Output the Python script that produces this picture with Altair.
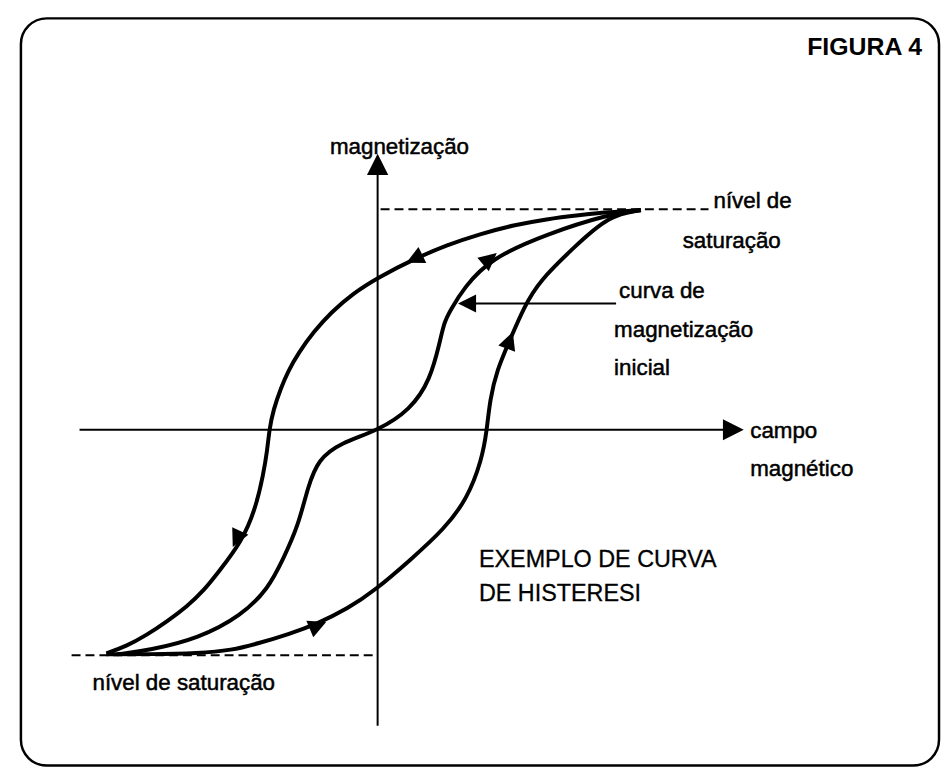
import altair as alt
import pandas as pd

# ---- values (H = magnetic field, M = magnetization, arbitrary units) ----
# descending branch (from positive saturation to negative saturation)
desc_H = [26.5, 23.2, 20.3, 17.0, 13.7, 10.3, 7.0, 3.7, 0.0, -2.5, -4.7, -6.4, -8.0, -9.0, -9.7,
          -10.5, -10.9, -11.1, -11.5, -12.3, -13.7, -16.0, -17.5, -19.2, -21.2, -23.3, -25.3, -27.3]
desc_M = [22.1, 21.9, 21.6, 21.2, 20.6, 19.7, 18.6, 17.2, 15.3, 13.7, 11.8, 9.9, 7.7, 5.9, 4.3,
          2.0, 0.0, -2.0, -4.5, -8.0, -11.3, -14.3, -16.2, -17.8, -19.3, -20.7, -21.8, -22.5]
# ascending branch (from negative saturation to positive saturation)
asc_H = [-27.3, -23.0, -18.0, -14.7, -12.0, -9.0, -6.0, -3.0, -0.3, 3.3, 6.7, 9.0, 10.5, 11.0,
         11.3, 12.0, 13.3, 14.7, 16.3, 19.7, 23.3, 26.5]
asc_M = [-22.6, -22.6, -22.5, -22.2, -21.5, -20.6, -19.5, -18.0, -16.2, -13.1, -10.0, -7.0, -3.0, 0.0,
         3.0, 6.0, 9.0, 12.3, 15.0, 18.3, 21.6, 22.1]
# initial magnetization curve
init_H = [-26.2, -23.0, -18.0, -13.7, -11.0, -9.5, -8.0, -7.0, -6.0, -3.7, 0.0, 3.3, 5.3, 6.3,
          6.7, 7.3, 8.7, 11.3, 17.0, 23.3, 26.5]
init_M = [-22.6, -22.2, -21.0, -18.7, -16.0, -13.0, -9.7, -5.7, -3.0, -1.3, -0.1, 2.0, 5.0, 9.0,
          10.8, 12.0, 14.3, 17.2, 19.7, 21.7, 22.1]

# saturation levels (dashed)
sat_H1 = [0.3, -30.8]
sat_H2 = [33.3, -0.3]
sat_M = [22.2, -22.7]

# coordinate axes
axis_x1 = [-30.0, 0.0]
axis_x2 = [35.0, 0.0]
axis_y1 = [0.0, -29.8]
axis_y2 = [0.0, 26.5]

# pointer for "curva de magnetização inicial"
ptr_H1 = [9.0]
ptr_H2 = [24.0]
ptr_M = [12.7]

# arrowheads: position, direction (deg, clockwise from up), size
arr_H = [35.8, 0.0, 3.7, -14.2, 11.3, 13.3, -6.0, 9.0]
arr_M = [0.0, 26.7, 17.2, -11.0, 17.2, 9.0, -19.7, 12.7]
arr_angle = [90, 0, 244, 205, 50, 20, 67, 270]
arr_size = [440, 460, 320, 320, 320, 320, 320, 330]

# labels
lab_text = ["magnetização", "nível de", "saturação", "curva de", "magnetização", "inicial",
            "campo", "magnético", "nível de saturação"]
lab_H = [-4.8, 33.8, 30.7, 24.3, 23.8, 23.8, 37.5, 37.5, -28.7]
lab_M = [27.8, 22.3, 18.3, 13.3, 9.3, 5.5, -0.8, -4.7, -26.2]

note_text = ["EXEMPLO DE CURVA", "DE HISTERESI"]
note_H = [10.2, 10.2]
note_M = [-13.8, -17.2]

title_text = ["FIGURA 4"]
title_H = [54.8]
title_M = [37.7]

X_DOMAIN = [-35.9, 56.5]
Y_DOMAIN = [-33.8, 41.4]

# ---- build tables ----
rows = []
for name, hs, ms in [("descendente", desc_H, desc_M), ("ascendente", asc_H, asc_M),
                     ("inicial", init_H, init_M)]:
    for i, (h, m) in enumerate(zip(hs, ms)):
        rows.append({"curva": name, "ordem": i, "H": h, "M": m})
curve_df = pd.DataFrame(rows)
sat_df = pd.DataFrame({"H1": sat_H1, "H2": sat_H2, "M": sat_M})
axes_df = pd.DataFrame({"x1": axis_x1, "x2": axis_x2, "y1": axis_y1, "y2": axis_y2})
ptr_df = pd.DataFrame({"H1": ptr_H1, "H2": ptr_H2, "M": ptr_M})
arr_df = pd.DataFrame({"H": arr_H, "M": arr_M, "angle": arr_angle, "size": arr_size})
lab_df = pd.DataFrame({"text": lab_text, "H": lab_H, "M": lab_M})
note_df = pd.DataFrame({"text": note_text, "H": note_H, "M": note_M})
title_df = pd.DataFrame({"text": title_text, "H": title_H, "M": title_M})

xs = alt.Scale(domain=X_DOMAIN, nice=False, zero=False)
ys = alt.Scale(domain=Y_DOMAIN, nice=False, zero=False)

FONT = "Liberation Sans"

curves = alt.Chart(curve_df).mark_line(
    strokeWidth=4, color="black", interpolate="basis", strokeCap="butt"
).encode(
    x=alt.X("H:Q", scale=xs, axis=None),
    y=alt.Y("M:Q", scale=ys, axis=None),
    detail="curva:N",
    order="ordem:Q",
)

sat = alt.Chart(sat_df).mark_rule(strokeDash=[9, 5], strokeWidth=2, color="black").encode(
    x=alt.X("H1:Q", scale=xs, axis=None),
    x2="H2:Q",
    y=alt.Y("M:Q", scale=ys, axis=None),
)

axes = alt.Chart(axes_df).mark_rule(strokeWidth=2, color="black").encode(
    x=alt.X("x1:Q", scale=xs, axis=None),
    x2="x2:Q",
    y=alt.Y("y1:Q", scale=ys, axis=None),
    y2="y2:Q",
)

ptr = alt.Chart(ptr_df).mark_rule(strokeWidth=2, color="black").encode(
    x=alt.X("H1:Q", scale=xs, axis=None),
    x2="H2:Q",
    y=alt.Y("M:Q", scale=ys, axis=None),
)

arrows = alt.Chart(arr_df).mark_point(
    shape="M0,-1L1,1L-1,1Z", filled=True, color="black", opacity=1, strokeWidth=0
).encode(
    x=alt.X("H:Q", scale=xs, axis=None),
    y=alt.Y("M:Q", scale=ys, axis=None),
    angle=alt.Angle("angle:Q", scale=None),
    size=alt.Size("size:Q", scale=None),
)

labels = alt.Chart(lab_df).mark_text(
    align="left", baseline="alphabetic", fontSize=22.5, font=FONT, color="black",
    stroke="black", strokeWidth=0.5
).encode(
    x=alt.X("H:Q", scale=xs, axis=None),
    y=alt.Y("M:Q", scale=ys, axis=None),
    text="text:N",
)

notes = alt.Chart(note_df).mark_text(
    align="left", baseline="alphabetic", fontSize=23.5, font=FONT, color="black",
    stroke="black", strokeWidth=0.3
).encode(
    x=alt.X("H:Q", scale=xs, axis=None),
    y=alt.Y("M:Q", scale=ys, axis=None),
    text="text:N",
)

title = alt.Chart(title_df).mark_text(
    align="right", baseline="alphabetic", fontSize=25, fontWeight="bold", font=FONT, color="black"
).encode(
    x=alt.X("H:Q", scale=xs, axis=None),
    y=alt.Y("M:Q", scale=ys, axis=None),
    text="text:N",
)

chart = alt.layer(sat, axes, ptr, curves, arrows, labels, notes, title).properties(
    width=924,
    height=752,
    padding={"left": 13, "top": 8, "right": 2, "bottom": 1},
    autosize=alt.AutoSizeParams(type="none"),
    background="white",
).configure_view(
    stroke="black", strokeWidth=2.5, cornerRadius=26, fill="white"
)

chart.save("out.html", embed_options={"renderer": "svg", "actions": False})
